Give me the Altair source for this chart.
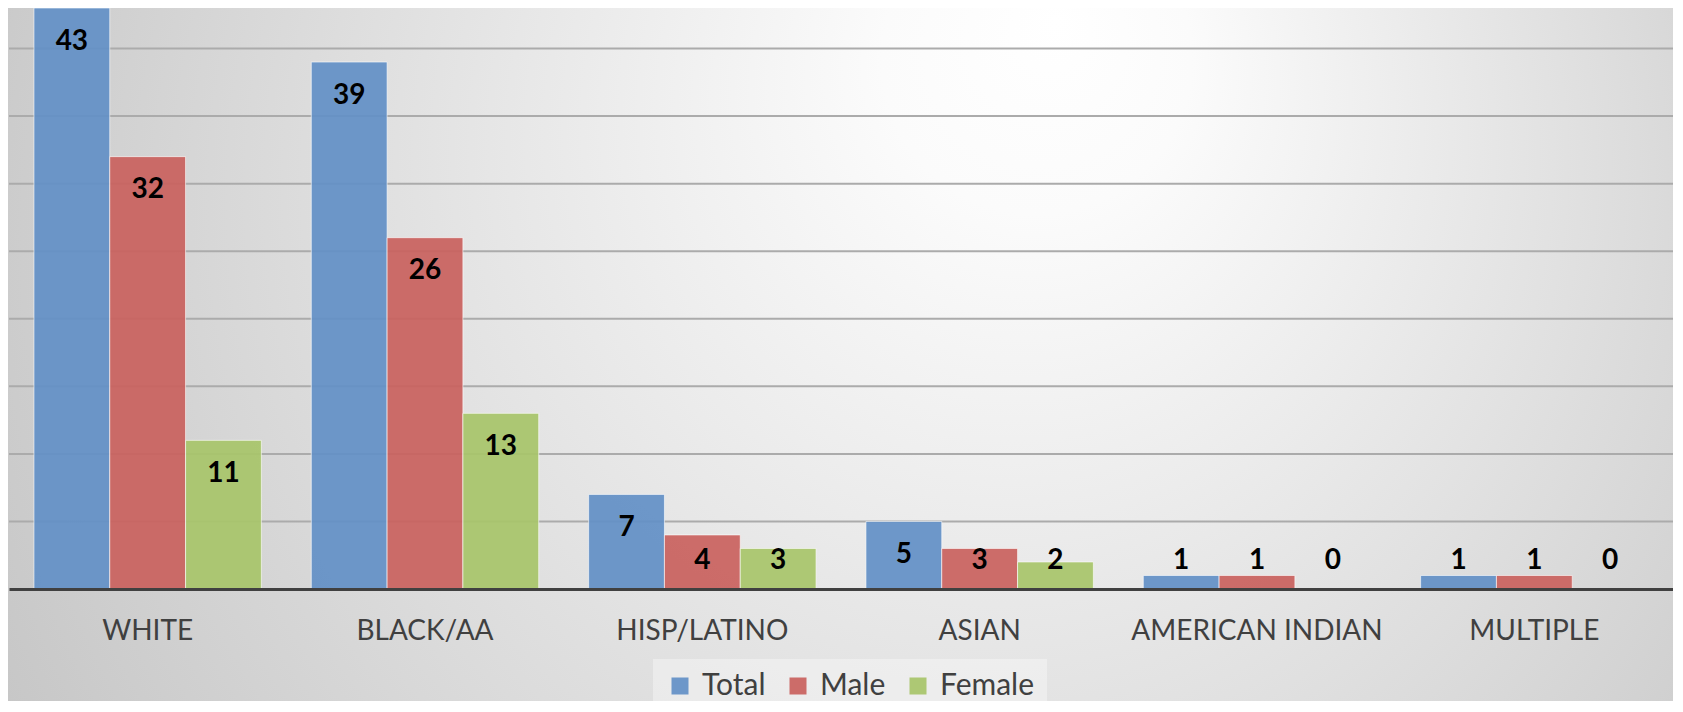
import altair as alt
import pandas as pd

categories = ["WHITE", "BLACK/AA", "HISP/LATINO", "ASIAN", "AMERICAN INDIAN", "MULTIPLE"]
series = ["Total", "Male", "Female"]
total = [43, 39, 7, 5, 1, 1]
male = [32, 26, 4, 3, 1, 1]
female = [11, 13, 3, 2, 0, 0]
grid_values = [5, 10, 15, 20, 25, 30, 35, 40]
colors = ["#6390C6", "#C9625F", "#A8C56B"]

rows = []
for i, c in enumerate(categories):
    for s, vals in zip(series, [total, male, female]):
        rows.append({"cat": c, "series": s, "value": vals[i]})
df = pd.DataFrame(rows)
grid_df = pd.DataFrame({"g": grid_values})
bg_df = pd.DataFrame({"bg": [0]})

W = 1664
H = 581
PAD_L = 1
PAD_B = 112

yscale = alt.Scale(domain=[0, 43], nice=False, zero=True)
xscale = alt.Scale(paddingInner=0.18, paddingOuter=0.09)
xoff_scale = alt.Scale(domain=series, paddingInner=0, paddingOuter=0)
xaxis = alt.Axis(
    title=None, labelAngle=0, ticks=False, tickSize=0, labelLimit=0,
    labelFont="Lato", labelFontSize=28, labelColor="#404040",
    labelBaseline="middle", labelPadding=42,
    domain=True, domainColor="#404040", domainWidth=3, zindex=1, grid=False,
)

background = alt.Chart(bg_df).mark_rect(
    fill=alt.Gradient(
        gradient="radial",
        stops=[
            alt.GradientStop(color="#ffffff", offset=0),
            alt.GradientStop(color="#fbfbfb", offset=0.15),
            alt.GradientStop(color="#c6c6c6", offset=1),
        ],
        x1=0.63, y1=0.3, r1=0,
        x2=0.55, y2=0.45, r2=0.62,
    )
).encode(
    x=alt.value(-PAD_L), x2=alt.value(W),
    y=alt.value(0), y2=alt.value(H + PAD_B),
)

grid = alt.Chart(grid_df).mark_rule(color="#ababab", strokeWidth=2).encode(
    y=alt.Y("g:Q", scale=yscale, axis=None)
)

bars = alt.Chart(df).mark_bar(
    fillOpacity=0.93, stroke="#ffffff", strokeWidth=1, strokeOpacity=0.6
).encode(
    x=alt.X("cat:N", sort=categories, scale=xscale, axis=xaxis),
    xOffset=alt.XOffset("series:N", sort=series, scale=xoff_scale),
    y=alt.Y("value:Q", scale=yscale, axis=None),
    color=alt.Color(
        "series:N", sort=series,
        scale=alt.Scale(domain=series, range=colors),
        legend=alt.Legend(
            title=None, orient="none", direction="horizontal", columns=3,
            legendX=644, legendY=651, padding=12,
            fillColor="rgba(255,255,255,0.35)", strokeColor=None,
            symbolType="square", symbolSize=289, symbolStrokeWidth=0,
            symbolOpacity=0.93, labelFont="Lato", labelFontSize=30,
            labelColor="#404040", labelOffset=7, columnPadding=17,
        ),
    ),
)

labels = alt.Chart(df).transform_calculate(
    ly="max(datum.value - 2.5, 2.1)"
).mark_text(
    font="Lato", fontSize=28, fontWeight="bold", color="#000000",
    baseline="middle", align="center",
).encode(
    x=alt.X("cat:N", sort=categories, scale=xscale, axis=xaxis),
    xOffset=alt.XOffset("series:N", sort=series, scale=xoff_scale),
    y=alt.Y("ly:Q", scale=yscale, axis=None),
    text=alt.Text("value:Q"),
)

chart = alt.layer(background, grid, bars, labels).properties(
    width=W, height=H,
    autosize=alt.AutoSizeParams(type="none"),
    padding={"left": PAD_L, "top": 0, "right": 0, "bottom": PAD_B},
).configure_view(stroke=None).configure(background="#ffffff")

chart.save("out.html", embed_options={"renderer": "svg", "actions": False})
